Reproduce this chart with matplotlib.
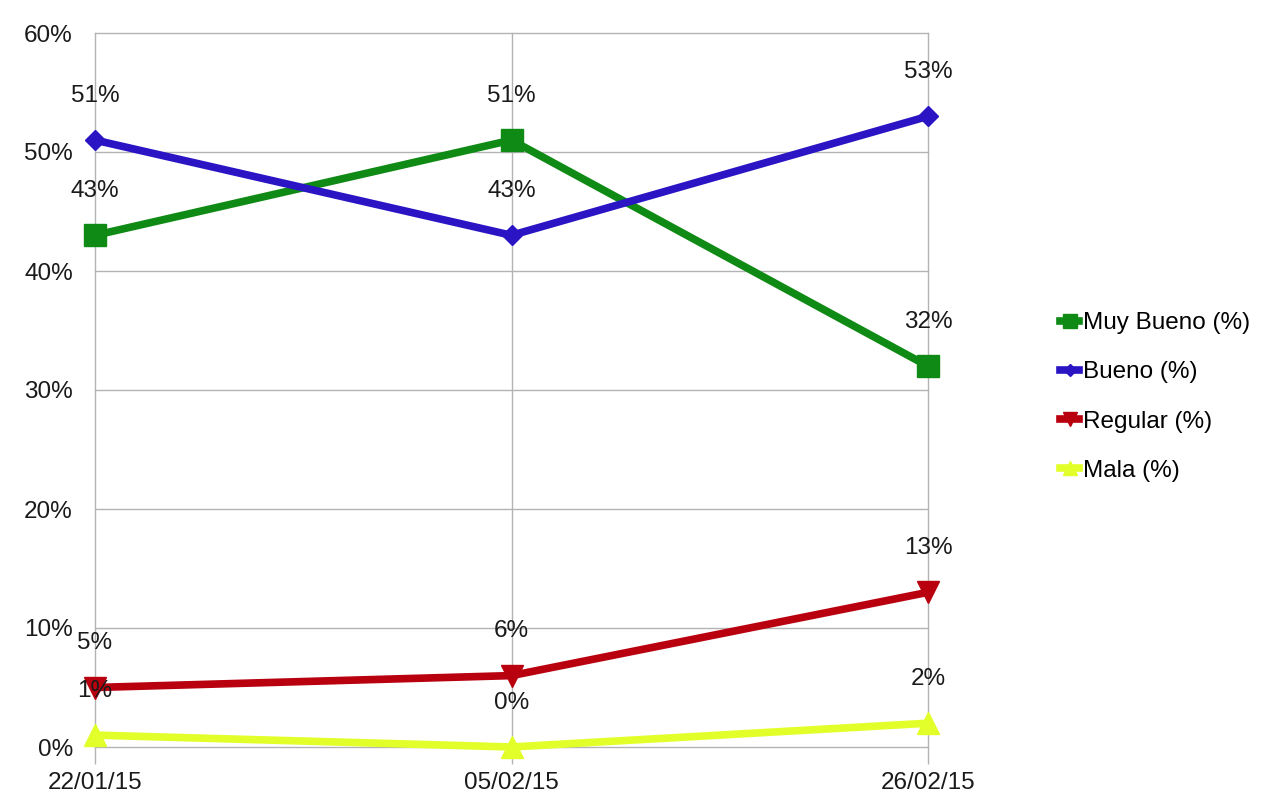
import matplotlib
matplotlib.use("Agg")
import matplotlib.pyplot as plt
from matplotlib import font_manager

names = {f.name for f in font_manager.fontManager.ttflist}
fam = ['Liberation Sans Narrow'] if 'Liberation Sans Narrow' in names else ['Liberation Sans']
plt.rcParams['font.family'] = fam + ['DejaVu Sans']

dates = ["22/01/15", "05/02/15", "26/02/15"]
muy_bueno = [43, 51, 32]
bueno = [51, 43, 53]
regular = [5, 6, 13]
mala = [1, 0, 2]
y_ticks = [0, 10, 20, 30, 40, 50, 60]

series = [
    ("Muy Bueno (%)", muy_bueno, "#0f8a14", "s", 16),
    ("Bueno (%)", bueno, "#2a14c4", "D", 10),
    ("Regular (%)", regular, "#b8000f", "v", 16),
    ("Mala (%)", mala, "#e2ff2a", "^", 16),
]

fig = plt.figure(figsize=(12.76, 8.09), dpi=100)
ax = fig.add_axes([95/1276, 62/809, (928-95)/1276, (747-33)/809])
x = list(range(len(dates)))

for label, vals, col, mk, ms in series:
    ax.plot(x, vals, color=col, lw=5.5, marker=mk, markersize=ms, label=label,
            clip_on=False, zorder=3)
    for xi, v in zip(x, vals):
        ax.annotate(f"{v}%", (xi, v), xytext=(0, 32), textcoords="offset points",
                    ha="center", va="center", fontsize=17.5, color="#1a1a1a",
                    zorder=4)

ax.set_xlim(0, 2)
ax.set_ylim(0, 60)
ax.set_yticks(y_ticks)
ax.set_yticklabels([f"{t}%" for t in y_ticks])
ax.set_xticks(x)
ax.set_xticklabels(dates)
ax.grid(True, color="#b3b3b3", lw=1)
for gl in ax.get_xgridlines() + ax.get_ygridlines():
    gl.set_clip_on(False)
ax.set_axisbelow(True)
for s in ax.spines.values():
    s.set_visible(False)
ax.tick_params(axis="y", length=0, pad=16, labelsize=17.5, labelcolor="#1a1a1a")
ax.tick_params(axis="x", length=12, width=1, color="#b3b3b3", pad=6,
               labelsize=17.5, labelcolor="#1a1a1a")

leg = ax.legend(loc="center left", bbox_to_anchor=(1038/1276, 412/809),
                bbox_transform=fig.transFigure, frameon=False, fontsize=17.5,
                handlelength=0.8, handletextpad=0.15, labelspacing=1.12,
                markerscale=0.6)

fig.savefig("out.png", dpi=100)
